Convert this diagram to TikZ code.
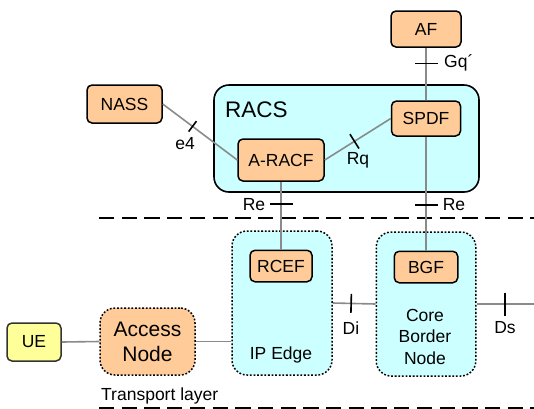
\documentclass[tikz,border=0pt]{standalone}
\usepackage{fontspec}
\setmainfont{Liberation Sans}
\usetikzlibrary{calc}
\definecolor{boxorange}{HTML}{FFCC99}
\definecolor{boxcyan}{HTML}{CCFFFF}
\definecolor{boxyellow}{HTML}{FFFF99}
\definecolor{conngray}{HTML}{8A8A8A}
\tikzset{
  base/.style={font=\fontsize{17.5}{20}\selectfont},
  fnode/.style={base, draw=black, line width=1.5pt, fill=boxorange, rounded corners=5pt, inner sep=0pt},
  bigbox/.style={draw=black, line width=1.5pt, fill=boxcyan, rounded corners=15pt, inner sep=0pt, dash pattern=on 1.8pt off 1.8pt},
  conn/.style={draw=conngray, line width=1.6pt},
  tickmark/.style={inner sep=0pt, outer sep=0pt, minimum width=0pt},
  tickline/.style={draw=black, line width=1.6pt},
  lab/.style={base, inner sep=0pt},
  layerline/.style={draw=black, line width=2pt, dash pattern=on 15.3pt off 7.4pt},
}
\begin{document}
\begin{tikzpicture}[x=1pt, y=-1pt]
\useasboundingbox (0,0) rectangle (534,408);
% layer lines
\coordinate (l1a) at (99,218.3);
\coordinate (l1b) at (534,218.3);
\coordinate (l2a) at (99,407.5);
\coordinate (l2b) at (534,407.5);
\draw[layerline] (l1a) -- (l1b);
\draw[layerline] (l2a) -- (l2b);
% RACS
\node[draw=black, line width=1.6pt, fill=boxcyan, rounded corners=15pt, minimum width=265pt, minimum height=107pt, inner sep=0pt] (racs) at (346.5,138.5) {};
\node[lab, font=\fontsize{22.5}{26}\selectfont, anchor=west] (racslab) at (225,110) {RACS};
% transport boxes
\node[bigbox, minimum width=100pt, minimum height=144pt] (ipedge) at (282,303) {};
\node[bigbox, minimum width=99.5pt, minimum height=144pt] (core) at (426,304) {};
\node[lab] (iplab) at (281,355) {IP Edge};
\node[lab, align=center, font=\fontsize{17.5}{21.5}\selectfont] (corelab) at (425,336.5) {Core\\Border\\Node};
% function nodes
\node[fnode, minimum width=70pt, minimum height=36pt] (af) at (426,29) {AF};
\node[fnode, minimum width=75pt, minimum height=38pt] (nass) at (124.5,104) {NASS};
\node[fnode, minimum width=69pt, minimum height=35pt] (spdf) at (426,118.5) {SPDF};
\node[fnode, minimum width=86pt, minimum height=42pt] (aracf) at (281,160) {A-RACF};
\node[fnode, minimum width=62pt, minimum height=31.5pt] (rcef) at (281,266) {RCEF};
\node[fnode, minimum width=63.5pt, minimum height=31.5pt] (bgf) at (426,267) {BGF};
\node[fnode, fill=boxyellow, draw=black!80, minimum width=54pt, minimum height=38pt] (ue) at (34,342) {UE};
\node[fnode, font=\fontsize{21}{25}\selectfont, align=center, dash pattern=on 1.8pt off 1.8pt, rounded corners=15pt, minimum width=95pt, minimum height=67pt] (access) at (147.5,341.5) {Access\\Node};
\node[lab, anchor=west] (tlab) at (101,396) {Transport layer};
% connectors with ticks
\draw[conn] (nass.east) -- node[tickmark, pos=0.4, sloped, minimum height=13pt] (t1) {} (aracf.west);
\draw[tickline] (t1.north) -- (t1.south);
\node[lab] (e4) at (185,144) {e4};
\draw[conn] (aracf.east) -- node[tickmark, pos=0.45, sloped, minimum height=17pt] (t2) {} (spdf.west);
\draw[tickline] (t2.north) -- (t2.south);
\node[lab] (rq) at (358,160.5) {Rq};
\draw[conn] (af.south) -- node[tickmark, pos=0.3, sloped, minimum height=23pt] (t3) {} (spdf.north);
\draw[tickline] (t3.north) -- (t3.south);
\node[lab, anchor=west] (gq) at (444,63) {Gq´};
\draw[conn] (aracf.south) -- node[tickmark, pos=0.325, sloped, minimum height=23pt] (t4) {} (rcef.north);
\draw[tickline] (t4.north) -- (t4.south);
\node[lab] (re1) at (254,205) {Re};
\draw[conn] (spdf.south) -- node[tickmark, pos=0.6, sloped, minimum height=23pt] (t5) {} (bgf.north);
\draw[tickline] (t5.north) -- (t5.south);
\node[lab] (re2) at (454,205) {Re};
\draw[conn] (ipedge.east) -- node[tickmark, pos=0.43, sloped, minimum height=19pt] (t6) {} (core.west);
\draw[tickline] (t6.north) -- (t6.south);
\node[lab] (di) at (351,328.5) {Di};
\coordinate (dsend) at (534,304);
\draw[conn] (core.east) -- node[tickmark, pos=0.5, sloped, minimum height=23pt] (t7) {} (dsend);
\draw[tickline] (t7.north) -- (t7.south);
\node[lab] (ds) at (505,328) {Ds};
\draw[conn] (ue.east) -- (access.west);
\draw[conn] (access.east) -- (access.east -| ipedge.west);
\end{tikzpicture}
\end{document}
